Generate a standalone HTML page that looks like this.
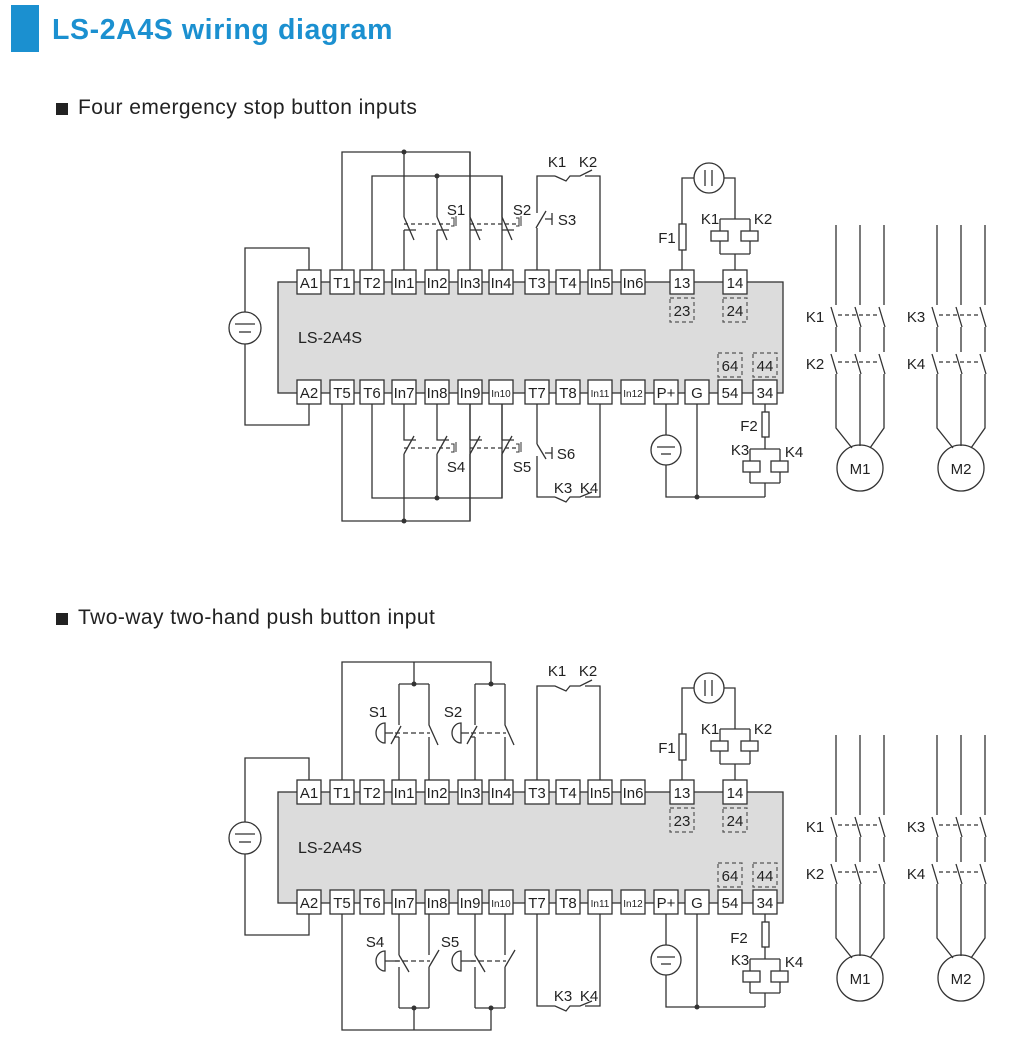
<!DOCTYPE html>
<html><head><meta charset="utf-8"><style>
html,body{margin:0;padding:0;background:#fff;}
svg{display:block;font-family:"Liberation Sans",sans-serif;}
</style></head><body>
<svg width="1010" height="1040" viewBox="0 0 1010 1040" xmlns="http://www.w3.org/2000/svg">
<rect x="11" y="5" width="28" height="47" fill="#1b90d0"/>
<text x="52" y="39" font-size="28.5" font-weight="bold" fill="#1b90d0" letter-spacing="0.6">LS-2A4S wiring diagram</text>
<rect x="56" y="103" width="12" height="12" fill="#222"/>
<text x="78" y="114" font-size="21" fill="#222" letter-spacing="0.45">Four emergency stop button inputs</text>
<rect x="56" y="613" width="12" height="12" fill="#222"/>
<text x="78" y="624" font-size="21" fill="#222" letter-spacing="0.45">Two-way two-hand push button input</text>

<!-- ===== Diagram 1 ===== -->
<g stroke="#333" stroke-width="1.3" fill="none">
<rect x="278" y="282" width="505" height="111" fill="#dcdcdc"/>
<polyline points="309,270 309,248 245,248 245,312"/>
<polyline points="245,344 245,425 309,425 309,404"/>
<circle cx="245" cy="328" r="16"/>
<line x1="235" y1="324" x2="255" y2="324"/><line x1="239" y1="332" x2="251" y2="332"/>
<polyline points="342,270 342,152 470,152 470,270"/>
<polyline points="372,270 372,176 502,176 502,270"/>
<line x1="404" y1="152" x2="404" y2="217"/><line x1="437" y1="176" x2="437" y2="217"/>
<line x1="404" y1="230" x2="404" y2="270"/><line x1="437" y1="230" x2="437" y2="270"/>
<path d="M404 217 L414 240 M404 230 H416 M437 217 L447 240 M437 230 H449 M470 152 V217 L480 240 M470 230 H482 M502 176 V217 L512 240 M502 230 H514"/>
<line x1="404" y1="224" x2="450" y2="224" stroke-dasharray="4,3"/>
<line x1="470" y1="224" x2="516" y2="224" stroke-dasharray="4,3"/>
<path d="M451 218 h3 v8 h-3 M456 216 v10 M516 218 h3 v8 h-3 M521 216 v10" stroke-width="1"/>
<polyline points="537,270 537,228"/><polyline points="537,213 537,176 555,176"/>
<path d="M536 228 L546 211 M545 219 H552 M552 213 V225"/>
<path d="M555 176 L566 181 L570 176 L580 176 L592 170 M585 176 H600 V270"/>
<polyline points="342,404 342,521 470,521 470,404"/>
<polyline points="372,404 372,498 502,498 502,404"/>
<path d="M404 404 V440 H416 M404 454 V521 M404 454 L414 436 M437 404 V440 H449 M437 454 V498 M437 454 L447 436 M470 440 H482 M470 454 L480 436 M502 440 H514 M502 454 L512 436"/>
<path d="M470 404 V440 M470 454 V521 M502 404 V440 M502 454 V498"/>
<line x1="404" y1="448" x2="450" y2="448" stroke-dasharray="4,3"/>
<line x1="470" y1="448" x2="516" y2="448" stroke-dasharray="4,3"/>
<path d="M451 444 h3 v8 h-3 M456 442 v10 M516 444 h3 v8 h-3 M521 442 v10" stroke-width="1"/>
<path d="M537 404 V444 M537 456 V497 H555 M537 444 L546 459 M545 453 H552 M552 447 V459"/>
<path d="M555 497 L566 502 L570 497 L580 497 L592 492 M585 497 H600 V404"/>
<path d="M682 270 V250 M682 224 V178 H694 M724 178 H735 V219 M720 219 H750 M720 219 V231 M750 219 V231 M720 241 V254 M750 241 V254 M720 254 H750 M735 254 V270"/>
<rect x="679" y="224" width="7" height="26" fill="#fff"/>
<circle cx="709" cy="178" r="15"/>
<line x1="705" y1="170" x2="705" y2="186"/><line x1="712" y1="170" x2="712" y2="186"/>
<rect x="711" y="231" width="17" height="10" fill="#fff"/><rect x="741" y="231" width="17" height="10" fill="#fff"/>
<path d="M666 404 V435 M666 465 V497 H765 M697 404 V497 M765 404 V412 M765 437 V449 M750 449 H780 M750 449 V461 M780 449 V461 M750 472 V483 M780 472 V483 M750 483 H780 M765 483 V497"/>
<circle cx="666" cy="450" r="15"/>
<line x1="657" y1="447" x2="675" y2="447"/><line x1="661" y1="454" x2="671" y2="454"/>
<rect x="762" y="412" width="7" height="25" fill="#fff"/>
<rect x="743" y="461" width="17" height="11" fill="#fff"/><rect x="771" y="461" width="17" height="11" fill="#fff"/>
<path d="M836 225 V305 M836 327 V352 M836 374 V428 L852 448 M860 225 V305 M860 327 V352 M860 374 V446 M884 225 V305 M884 327 V352 M884 374 V428 L870 448"/>
<path d="M831 307 L837 327 M855 307 L861 327 M879 307 L885 327 M831 354 L837 374 M855 354 L861 374 M879 354 L885 374"/>
<line x1="838" y1="315" x2="880" y2="315" stroke-dasharray="4,3"/>
<line x1="838" y1="362" x2="880" y2="362" stroke-dasharray="4,3"/>
<circle cx="860" cy="468" r="23"/>
<path d="M937 225 V305 M937 327 V352 M937 374 V428 L953 448 M961 225 V305 M961 327 V352 M961 374 V446 M985 225 V305 M985 327 V352 M985 374 V428 L971 448"/>
<path d="M932 307 L938 327 M956 307 L962 327 M980 307 L986 327 M932 354 L938 374 M956 354 L962 374 M980 354 L986 374"/>
<line x1="939" y1="315" x2="981" y2="315" stroke-dasharray="4,3"/>
<line x1="939" y1="362" x2="981" y2="362" stroke-dasharray="4,3"/>
<circle cx="961" cy="468" r="23"/>
</g>
<g fill="#333">
<circle cx="404" cy="152" r="2.5"/><circle cx="437" cy="176" r="2.5"/>
<circle cx="404" cy="521" r="2.5"/><circle cx="437" cy="498" r="2.5"/>
<circle cx="697" cy="497" r="2.5"/>
</g>
<g stroke="#333" stroke-width="1.3" fill="#fff">
<rect x="297" y="270" width="24" height="24"/><rect x="330" y="270" width="24" height="24"/><rect x="360" y="270" width="24" height="24"/><rect x="392" y="270" width="24" height="24"/><rect x="425" y="270" width="24" height="24"/><rect x="458" y="270" width="24" height="24"/><rect x="489" y="270" width="24" height="24"/><rect x="525" y="270" width="24" height="24"/><rect x="556" y="270" width="24" height="24"/><rect x="588" y="270" width="24" height="24"/><rect x="621" y="270" width="24" height="24"/><rect x="670" y="270" width="24" height="24"/><rect x="723" y="270" width="24" height="24"/>
<rect x="297" y="380" width="24" height="24"/><rect x="330" y="380" width="24" height="24"/><rect x="360" y="380" width="24" height="24"/><rect x="392" y="380" width="24" height="24"/><rect x="425" y="380" width="24" height="24"/><rect x="458" y="380" width="24" height="24"/><rect x="489" y="380" width="24" height="24"/><rect x="525" y="380" width="24" height="24"/><rect x="556" y="380" width="24" height="24"/><rect x="588" y="380" width="24" height="24"/><rect x="621" y="380" width="24" height="24"/><rect x="654" y="380" width="24" height="24"/><rect x="685" y="380" width="24" height="24"/><rect x="718" y="380" width="24" height="24"/><rect x="753" y="380" width="24" height="24"/>
</g>
<g stroke="#555" stroke-width="1.2" fill="none" stroke-dasharray="4,3">
<rect x="670" y="298" width="24" height="24"/><rect x="723" y="298" width="24" height="24"/><rect x="718" y="353" width="24" height="24"/><rect x="753" y="353" width="24" height="24"/>
</g>
<g font-size="15" fill="#222" text-anchor="middle">
<text x="309" y="288">A1</text><text x="342" y="288">T1</text><text x="372" y="288">T2</text><text x="404" y="288">In1</text><text x="437" y="288">In2</text><text x="470" y="288">In3</text><text x="501" y="288">In4</text><text x="537" y="288">T3</text><text x="568" y="288">T4</text><text x="600" y="288">In5</text><text x="633" y="288">In6</text><text x="682" y="288">13</text><text x="735" y="288">14</text>
<text x="682" y="316">23</text><text x="735" y="316">24</text><text x="730" y="371">64</text><text x="765" y="371">44</text>
<text x="309" y="398">A2</text><text x="342" y="398">T5</text><text x="372" y="398">T6</text><text x="404" y="398">In7</text><text x="437" y="398">In8</text><text x="470" y="398">In9</text><text x="501" y="397" font-size="10">In10</text><text x="537" y="398">T7</text><text x="568" y="398">T8</text><text x="600" y="397" font-size="10">In11</text><text x="633" y="397" font-size="10">In12</text><text x="666" y="398">P+</text><text x="697" y="398">G</text><text x="730" y="398">54</text><text x="765" y="398">34</text>
<text x="456" y="215">S1</text><text x="522" y="215">S2</text><text x="567" y="225">S3</text>
<text x="456" y="472">S4</text><text x="522" y="472">S5</text><text x="566" y="459">S6</text>
<text x="557" y="167">K1</text><text x="588" y="167">K2</text>
<text x="563" y="493">K3</text><text x="589" y="493">K4</text>
<text x="667" y="243">F1</text><text x="710" y="224">K1</text><text x="763" y="224">K2</text>
<text x="749" y="431">F2</text><text x="740" y="455">K3</text><text x="794" y="457">K4</text>
<text x="815" y="322">K1</text><text x="815" y="369">K2</text><text x="916" y="322">K3</text><text x="916" y="369">K4</text>
<text x="860" y="474">M1</text><text x="961" y="474">M2</text>
</g>
<text x="298" y="343" font-size="16" fill="#222">LS-2A4S</text>

<!-- ===== Diagram 2 ===== -->
<g stroke="#333" stroke-width="1.3" fill="none">
<rect x="278" y="792" width="505" height="111" fill="#dcdcdc"/>
<polyline points="309,780 309,758 245,758 245,822"/>
<polyline points="245,854 245,935 309,935 309,914"/>
<circle cx="245" cy="838" r="16"/>
<line x1="235" y1="834" x2="255" y2="834"/><line x1="239" y1="842" x2="251" y2="842"/>
<polyline points="342,780 342,662 491,662 491,684"/>
<path d="M414 662 V684 M399 684 H429 M475 684 H505"/>
<path d="M399 684 V725 M399 737 V780 M399 737 H394 M391 744 L401 726 M429 684 V725 L438 745 M429 737 V780"/>
<path d="M475 684 V725 M475 737 V780 M475 737 H470 M467 744 L477 726 M505 684 V725 L514 745 M505 737 V780"/>
<line x1="395" y1="733" x2="430" y2="733" stroke-dasharray="5,3"/>
<line x1="471" y1="733" x2="506" y2="733" stroke-dasharray="5,3"/>
<path d="M385 723 A9 10 0 0 0 385 743 Z M385 733 H393"/>
<path d="M461 723 A9 10 0 0 0 461 743 Z M461 733 H469"/>
<polyline points="342,914 342,1030 491,1030 491,1008"/>
<path d="M414 1030 V1008 M399 1008 H429 M475 1008 H505"/>
<path d="M399 914 V955 M399 967 V1008 M399 955 L409 972 M429 914 V955 M429 967 V1008 M429 967 L439 950"/>
<path d="M475 914 V955 M475 967 V1008 M475 955 L485 972 M505 914 V955 M505 967 V1008 M505 967 L515 950"/>
<line x1="395" y1="961" x2="430" y2="961" stroke-dasharray="5,3"/>
<line x1="471" y1="961" x2="506" y2="961" stroke-dasharray="5,3"/>
<path d="M385 951 A9 10 0 0 0 385 971 Z M385 961 H399"/>
<path d="M461 951 A9 10 0 0 0 461 971 Z M461 961 H475"/>
<path d="M537 780 V686 H555 L566 691 L570 686 L580 686 L592 680 M585 686 H600 V780"/>
<path d="M537 914 V1006 H555 L566 1011 L570 1006 L580 1006 L592 1001 M585 1006 H600 V914"/>
<path d="M682 780 V760 M682 734 V688 H694 M724 688 H735 V729 M720 729 H750 M720 729 V741 M750 729 V741 M720 751 V764 M750 751 V764 M720 764 H750 M735 764 V780"/>
<rect x="679" y="734" width="7" height="26" fill="#fff"/>
<circle cx="709" cy="688" r="15"/>
<line x1="705" y1="680" x2="705" y2="696"/><line x1="712" y1="680" x2="712" y2="696"/>
<rect x="711" y="741" width="17" height="10" fill="#fff"/><rect x="741" y="741" width="17" height="10" fill="#fff"/>
<path d="M666 914 V945 M666 975 V1007 H765 M697 914 V1007 M765 914 V922 M765 947 V959 M750 959 H780 M750 959 V971 M780 959 V971 M750 982 V993 M780 982 V993 M750 993 H780 M765 993 V1007"/>
<circle cx="666" cy="960" r="15"/>
<line x1="657" y1="957" x2="675" y2="957"/><line x1="661" y1="964" x2="671" y2="964"/>
<rect x="762" y="922" width="7" height="25" fill="#fff"/>
<rect x="743" y="971" width="17" height="11" fill="#fff"/><rect x="771" y="971" width="17" height="11" fill="#fff"/>
<path d="M836 735 V815 M836 837 V862 M836 884 V938 L852 958 M860 735 V815 M860 837 V862 M860 884 V956 M884 735 V815 M884 837 V862 M884 884 V938 L870 958"/>
<path d="M831 817 L837 837 M855 817 L861 837 M879 817 L885 837 M831 864 L837 884 M855 864 L861 884 M879 864 L885 884"/>
<line x1="838" y1="825" x2="880" y2="825" stroke-dasharray="4,3"/>
<line x1="838" y1="872" x2="880" y2="872" stroke-dasharray="4,3"/>
<circle cx="860" cy="978" r="23"/>
<path d="M937 735 V815 M937 837 V862 M937 884 V938 L953 958 M961 735 V815 M961 837 V862 M961 884 V956 M985 735 V815 M985 837 V862 M985 884 V938 L971 958"/>
<path d="M932 817 L938 837 M956 817 L962 837 M980 817 L986 837 M932 864 L938 884 M956 864 L962 884 M980 864 L986 884"/>
<line x1="939" y1="825" x2="981" y2="825" stroke-dasharray="4,3"/>
<line x1="939" y1="872" x2="981" y2="872" stroke-dasharray="4,3"/>
<circle cx="961" cy="978" r="23"/>
</g>
<g fill="#333">
<circle cx="414" cy="684" r="2.5"/><circle cx="491" cy="684" r="2.5"/>
<circle cx="414" cy="1008" r="2.5"/><circle cx="491" cy="1008" r="2.5"/>
<circle cx="697" cy="1007" r="2.5"/>
</g>
<g stroke="#333" stroke-width="1.3" fill="#fff">
<rect x="297" y="780" width="24" height="24"/><rect x="330" y="780" width="24" height="24"/><rect x="360" y="780" width="24" height="24"/><rect x="392" y="780" width="24" height="24"/><rect x="425" y="780" width="24" height="24"/><rect x="458" y="780" width="24" height="24"/><rect x="489" y="780" width="24" height="24"/><rect x="525" y="780" width="24" height="24"/><rect x="556" y="780" width="24" height="24"/><rect x="588" y="780" width="24" height="24"/><rect x="621" y="780" width="24" height="24"/><rect x="670" y="780" width="24" height="24"/><rect x="723" y="780" width="24" height="24"/>
<rect x="297" y="890" width="24" height="24"/><rect x="330" y="890" width="24" height="24"/><rect x="360" y="890" width="24" height="24"/><rect x="392" y="890" width="24" height="24"/><rect x="425" y="890" width="24" height="24"/><rect x="458" y="890" width="24" height="24"/><rect x="489" y="890" width="24" height="24"/><rect x="525" y="890" width="24" height="24"/><rect x="556" y="890" width="24" height="24"/><rect x="588" y="890" width="24" height="24"/><rect x="621" y="890" width="24" height="24"/><rect x="654" y="890" width="24" height="24"/><rect x="685" y="890" width="24" height="24"/><rect x="718" y="890" width="24" height="24"/><rect x="753" y="890" width="24" height="24"/>
</g>
<g stroke="#555" stroke-width="1.2" fill="none" stroke-dasharray="4,3">
<rect x="670" y="808" width="24" height="24"/><rect x="723" y="808" width="24" height="24"/><rect x="718" y="863" width="24" height="24"/><rect x="753" y="863" width="24" height="24"/>
</g>
<g font-size="15" fill="#222" text-anchor="middle">
<text x="309" y="798">A1</text><text x="342" y="798">T1</text><text x="372" y="798">T2</text><text x="404" y="798">In1</text><text x="437" y="798">In2</text><text x="470" y="798">In3</text><text x="501" y="798">In4</text><text x="537" y="798">T3</text><text x="568" y="798">T4</text><text x="600" y="798">In5</text><text x="633" y="798">In6</text><text x="682" y="798">13</text><text x="735" y="798">14</text>
<text x="682" y="826">23</text><text x="735" y="826">24</text><text x="730" y="881">64</text><text x="765" y="881">44</text>
<text x="309" y="908">A2</text><text x="342" y="908">T5</text><text x="372" y="908">T6</text><text x="404" y="908">In7</text><text x="437" y="908">In8</text><text x="470" y="908">In9</text><text x="501" y="907" font-size="10">In10</text><text x="537" y="908">T7</text><text x="568" y="908">T8</text><text x="600" y="907" font-size="10">In11</text><text x="633" y="907" font-size="10">In12</text><text x="666" y="908">P+</text><text x="697" y="908">G</text><text x="730" y="908">54</text><text x="765" y="908">34</text>
<text x="378" y="717">S1</text><text x="453" y="717">S2</text>
<text x="375" y="947">S4</text><text x="450" y="947">S5</text>
<text x="557" y="676">K1</text><text x="588" y="676">K2</text>
<text x="563" y="1001">K3</text><text x="589" y="1001">K4</text>
<text x="667" y="753">F1</text><text x="710" y="734">K1</text><text x="763" y="734">K2</text>
<text x="739" y="943">F2</text><text x="740" y="965">K3</text><text x="794" y="967">K4</text>
<text x="815" y="832">K1</text><text x="815" y="879">K2</text><text x="916" y="832">K3</text><text x="916" y="879">K4</text>
<text x="860" y="984">M1</text><text x="961" y="984">M2</text>
</g>
<text x="298" y="853" font-size="16" fill="#222">LS-2A4S</text>
</svg>
</body></html>
